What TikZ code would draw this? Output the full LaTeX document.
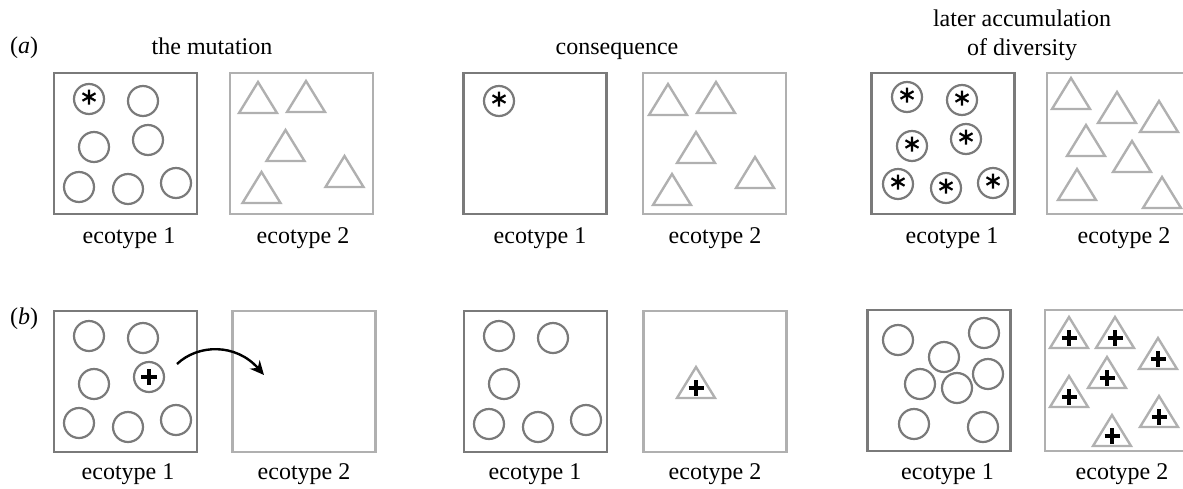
\documentclass[tikz,border=0pt]{standalone}
\usepackage{fontspec}
\setmainfont{Liberation Serif}
\usetikzlibrary{arrows.meta}

\definecolor{darkline}{HTML}{7A7A7A}
\definecolor{lightline}{HTML}{B0B0B0}

\tikzset{
  txt/.style={font=\fontsize{24}{29}\selectfont, inner sep=0pt, anchor=base},
  eco one/.style={draw=darkline, line width=2.4pt, minimum width=143pt, minimum height=141pt, inner sep=0pt},
  eco two/.style={draw=lightline, line width=2.4pt, minimum width=143pt, minimum height=141pt, inner sep=0pt},
  cell/.style={circle, draw=darkline, line width=2.2pt, minimum size=30pt, inner sep=0pt},
  starline/.style={black, line width=2.2pt},
  plusline/.style={black, line width=3.2pt},
  mut/.style={cell, path picture={
      \draw[starline] ([yshift=2pt]path picture bounding box.center)
        +(90:7.5) -- +(270:7.5) +(30:7.5) -- +(210:7.5) +(150:7.5) -- +(330:7.5);}},
  jumper/.style={cell, path picture={
      \draw[plusline] (path picture bounding box.center)
        +(-8,0) -- +(8,0) +(0,-8) -- +(0,8);}},
  trline/.style={draw=lightline, line width=2.4pt, line join=miter},
  tri/.pic={\draw[trline] (-19,0) -- (19,0) -- (0,-31) -- cycle;},
  tri plus/.pic={\draw[trline] (-19,0) -- (19,0) -- (0,-31) -- cycle;
                 \draw[plusline] (-7.5,-10) -- (7.5,-10) (0,-18) -- (0,-2);},
  jump/.style={black, line width=2.4pt, -{Stealth[length=14pt,width=13pt]}}
}

\begin{document}
\begin{tikzpicture}[x=1pt, y=-1pt]
\useasboundingbox (0,0) rectangle (1183,488);
\clip (0,0) rectangle (1183,488);

% ---------- panel labels and column titles ----------
\node[txt, anchor=base west] (la) at (10,53) {(\textit{a})};
\node[txt, anchor=base west] (lb) at (10,324) {(\textit{b})};
\node[txt] (t1) at (212,54) {the mutation};
\node[txt] (t2) at (617,54) {consequence};
\node[txt] (t3a) at (1022,26) {later accumulation};
\node[txt] (t3b) at (1022,55) {of diversity};

% ================= row (a) =================
% column 1
\node[eco one] (a1e1) at (125.5,143.5) {};
\node[eco two] (a1e2) at (301.5,143.5) {};
\node[mut]  (a1c1) at (89,99) {};
\node[cell] (a1c2) at (143,101) {};
\node[cell] (a1c3) at (94,147) {};
\node[cell] (a1c4) at (148,140) {};
\node[cell] (a1c5) at (79,187) {};
\node[cell] (a1c6) at (128,189) {};
\node[cell] (a1c7) at (176,183) {};
\pic (a1t1) at (258,113) {tri};
\pic (a1t2) at (306,112) {tri};
\pic (a1t3) at (285.5,161) {tri};
\pic (a1t4) at (344.5,187) {tri};
\pic (a1t5) at (261.5,203) {tri};
\node[txt] (a1l1) at (129,243) {ecotype 1};
\node[txt] (a1l2) at (303,243) {ecotype 2};

% column 2
\node[eco one] (a2e1) at (535,143.5) {};
\node[eco two] (a2e2) at (714.5,143.5) {};
\node[mut] (a2c1) at (499,101) {};
\pic (a2t1) at (668,115) {tri};
\pic (a2t2) at (716,113) {tri};
\pic (a2t3) at (696,163) {tri};
\pic (a2t4) at (755,188) {tri};
\pic (a2t5) at (672,205) {tri};
\node[txt] (a2l1) at (540,243) {ecotype 1};
\node[txt] (a2l2) at (715,243) {ecotype 2};

% column 3
\node[eco one] (a3e1) at (943,143.5) {};
\node[eco two] (a3e2) at (1118.5,143.5) {};
\node[mut] (a3c1) at (907,97) {};
\node[mut] (a3c2) at (962,100) {};
\node[mut] (a3c3) at (912,146) {};
\node[mut] (a3c4) at (966,139) {};
\node[mut] (a3c5) at (898,184) {};
\node[mut] (a3c6) at (946,188) {};
\node[mut] (a3c7) at (993,183) {};
\pic (a3t1) at (1071,109) {tri};
\pic (a3t2) at (1117,123) {tri};
\pic (a3t3) at (1159,132) {tri};
\pic (a3t4) at (1086,156) {tri};
\pic (a3t5) at (1132,172) {tri};
\pic (a3t6) at (1077,200) {tri};
\pic (a3t7) at (1162,208) {tri};
\node[txt] (a3l1) at (952,243) {ecotype 1};
\node[txt] (a3l2) at (1124,243) {ecotype 2};

% ================= row (b) =================
% column 1
\node[eco one] (b1e1) at (125.5,381.5) {};
\node[eco two] (b1e2) at (304,381.5) {};
\node[cell]   (b1c1) at (89,336) {};
\node[cell]   (b1c2) at (143,338) {};
\node[cell]   (b1c3) at (94,384) {};
\node[jumper] (b1c4) at (149,377) {};
\node[cell]   (b1c5) at (79,423) {};
\node[cell]   (b1c6) at (128,427) {};
\node[cell]   (b1c7) at (176,420) {};
\coordinate (jumpfrom) at (177,364);
\coordinate (jumpto) at (264,375);
\draw[jump] (jumpfrom) .. controls (198,344) and (236,343) .. (jumpto);
\node[txt] (b1l1) at (128,479) {ecotype 1};
\node[txt] (b1l2) at (304,479) {ecotype 2};

% column 2
\node[eco one] (b2e1) at (535.5,381.5) {};
\node[eco two] (b2e2) at (715,381.5) {};
\node[cell] (b2c1) at (499,336) {};
\node[cell] (b2c2) at (553,338) {};
\node[cell] (b2c3) at (504,384) {};
\node[cell] (b2c4) at (489,424) {};
\node[cell] (b2c5) at (538,427) {};
\node[cell] (b2c6) at (586,420) {};
\pic (b2t1) at (696,398) {tri plus};
\node[txt] (b2l1) at (535,479) {ecotype 1};
\node[txt] (b2l2) at (715,479) {ecotype 2};

% column 3
\node[eco one] (b3e1) at (939,380.5) {};
\node[eco two] (b3e2) at (1116.5,380.5) {};
\node[cell] (b3c1) at (898,340) {};
\node[cell] (b3c2) at (984,333) {};
\node[cell] (b3c3) at (944,357) {};
\node[cell] (b3c4) at (988,374) {};
\node[cell] (b3c5) at (920,384) {};
\node[cell] (b3c6) at (957,388) {};
\node[cell] (b3c7) at (914,424) {};
\node[cell] (b3c8) at (983,427) {};
\pic (b3t1) at (1069,348) {tri plus};
\pic (b3t2) at (1115,348) {tri plus};
\pic (b3t3) at (1158,369) {tri plus};
\pic (b3t4) at (1107,388) {tri plus};
\pic (b3t5) at (1069,407) {tri plus};
\pic (b3t6) at (1159,427) {tri plus};
\pic (b3t7) at (1112,446) {tri plus};
\node[txt] (b3l1) at (947.5,479) {ecotype 1};
\node[txt] (b3l2) at (1122,479) {ecotype 2};
\end{tikzpicture}
\end{document}
